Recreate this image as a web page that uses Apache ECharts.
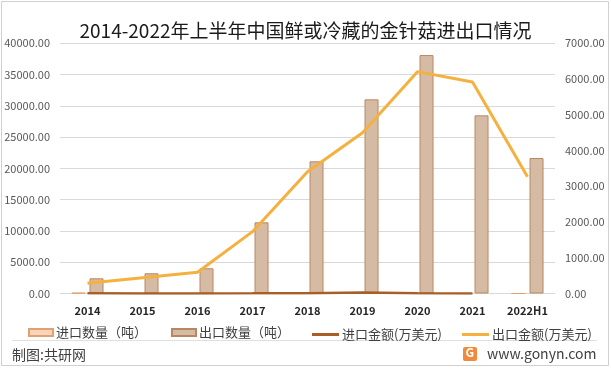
<!DOCTYPE html>
<html>
<head>
<meta charset="utf-8">
<script src="https://cdn.jsdelivr.net/npm/echarts@6/dist/echarts.min.js"></script>
<style>
html,body{margin:0;padding:0;background:#fff;}
#c{width:611px;height:370px;}
</style>
</head>
<body>
<div id="c"></div>
<script>
var categories = ['2014','2015','2016','2017','2018','2019','2020','2021','2022H1'];
var importQty = [120, 10, 5, 8, 10, 20, 15, 5, 0];
var exportQty = [2430, 3230, 4030, 11380, 21130, 31040, 38120, 28480, 21660];
var importAmt = [5, 2, 2, 5, 10, 30, 10, 3, null];
var exportAmt = [285, 440, 593, 1730, 3408, 4500, 6207, 5918, 3268];
var leftTicks = {min: 0, max: 40000, interval: 5000};
var rightTicks = {min: 0, max: 7000, interval: 1000};
var names = ['进口数量（吨）', '出口数量（吨）', '进口金额(万美元)', '出口金额(万美元)'];

var FONT = '"Noto Sans CJK SC", "Noto Sans", sans-serif';
var chart = echarts.init(document.getElementById('c'), null, {renderer: 'canvas'});

function legendAt(name, left, isLine) {
  return {
    data: [{name: name, icon: 'rect'}],
    left: left,
    top: isLine ? 323 : 321,
    itemWidth: isLine ? 27 : 24,
    itemHeight: isLine ? 3 : 7,
    itemGap: 4,
    textStyle: {fontSize: 13, color: '#404040', fontFamily: FONT, padding: [0, 0, 0, -2]},
    selectedMode: false
  };
}

chart.setOption({
  animation: false,
  backgroundColor: '#fff',
  title: {
    text: '2014-2022年上半年中国鲜或冷藏的金针菇进出口情况',
    left: 'center',
    top: 16,
    textStyle: {fontSize: 19, fontWeight: 'normal', color: '#1a1a1a', fontFamily: FONT}
  },
  legend: [
    legendAt(names[0], 23, false),
    legendAt(names[1], 166, false),
    legendAt(names[2], 307, true),
    legendAt(names[3], 457, true)
  ],
  grid: {left: 60, right: 56, top: 43.3, bottom: 76.5},
  xAxis: {
    type: 'category',
    data: categories,
    axisLine: {lineStyle: {color: '#d9d9d9'}},
    axisTick: {show: false},
    axisLabel: {fontSize: 11, fontWeight: 'bold', color: '#262626', margin: 12, fontFamily: FONT, interval: 0}
  },
  yAxis: [
    {
      type: 'value', min: leftTicks.min, max: leftTicks.max, interval: leftTicks.interval,
      axisLine: {show: false}, axisTick: {show: false},
      splitLine: {lineStyle: {color: '#d9d9d9'}},
      axisLabel: {fontSize: 11, color: '#595959', margin: 10, fontFamily: FONT,
        formatter: function (v) { return v.toFixed(2); }}
    },
    {
      type: 'value', min: rightTicks.min, max: rightTicks.max, interval: rightTicks.interval,
      axisLine: {show: false}, axisTick: {show: false},
      splitLine: {show: false},
      axisLabel: {fontSize: 11, color: '#595959', margin: 10, fontFamily: FONT,
        formatter: function (v) { return v.toFixed(2); }}
    }
  ],
  series: [
    {
      name: names[0], type: 'bar', data: importQty, barWidth: 14, barGap: '29%',
      itemStyle: {color: '#F8D5BA', borderColor: '#E0A070', borderWidth: 1}
    },
    {
      name: names[1], type: 'bar', data: exportQty, barWidth: 14, barGap: '29%',
      itemStyle: {color: '#D6BBA4', borderColor: '#B88762', borderWidth: 1}
    },
    {
      name: names[2], type: 'line', yAxisIndex: 1, data: importAmt,
      symbol: 'none', lineStyle: {color: '#A95E26', width: 2.5}, itemStyle: {color: '#A95E26'}
    },
    {
      name: names[3], type: 'line', yAxisIndex: 1, data: exportAmt,
      symbol: 'none', lineStyle: {color: '#F4B13F', width: 3}, itemStyle: {color: '#F4B13F'}
    }
  ],
  graphic: [
    {type: 'rect', shape: {x: 1.5, y: 1.5, width: 607, height: 364},
      style: {fill: 'none', stroke: '#d0d0d0', lineWidth: 1}, silent: true},
    {type: 'line', shape: {x1: 12, y1: 340.5, x2: 597, y2: 340.5},
      style: {stroke: '#e0e0e0', lineWidth: 1}, silent: true},
    {type: 'text', left: 12, top: 348,
      style: {text: '制图:共研网', fontSize: 14, fill: '#404040', fontFamily: FONT}},
    {type: 'rect', shape: {x: 463, y: 347, width: 14, height: 14, r: 2},
      style: {fill: '#F28A3C'}},
    {type: 'text', left: 465.5, top: 346,
      style: {text: 'G', fontSize: 12, fontWeight: 'bold', fill: '#fff', fontFamily: FONT}},
    {type: 'text', left: 487, top: 347,
      style: {text: 'www.gonyn.com', fontSize: 14, fill: '#404040', fontFamily: FONT}}
  ]
});
</script>
</body>
</html>
